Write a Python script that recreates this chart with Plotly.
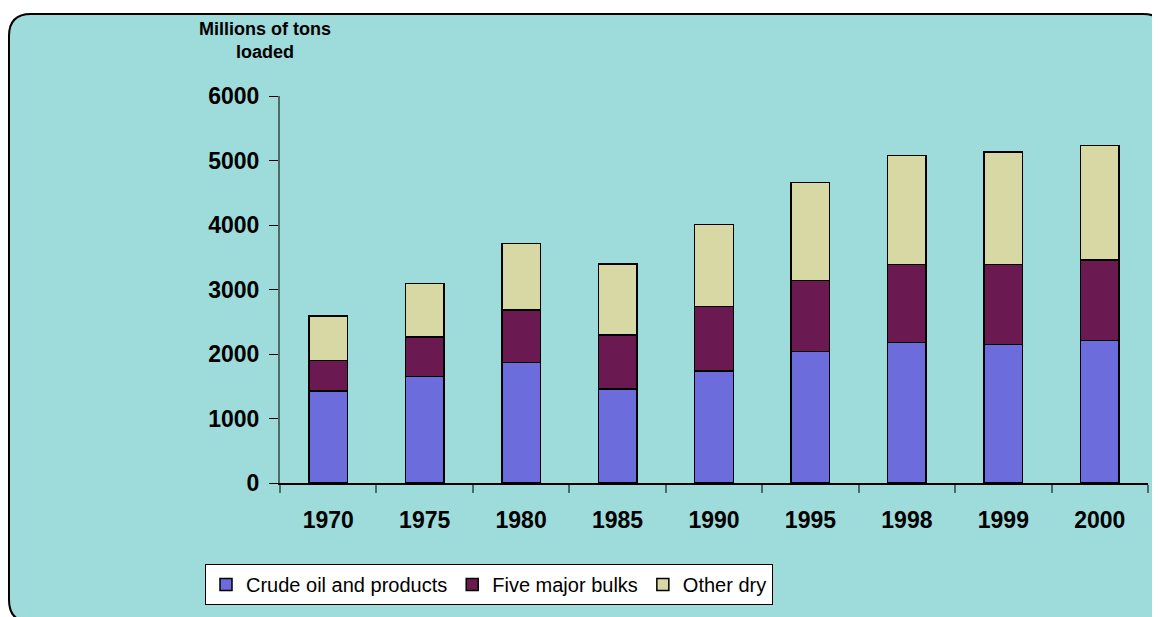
import plotly.graph_objects as go

# ---- data ----
years = ["1970", "1975", "1980", "1985", "1990", "1995", "1998", "1999", "2000"]
crude_oil = [1430, 1650, 1870, 1455, 1735, 2040, 2180, 2145, 2210]
five_major_bulks = [470, 615, 810, 840, 1005, 1100, 1210, 1245, 1245]
other_dry = [690, 825, 1030, 1100, 1270, 1520, 1690, 1745, 1775]
y_ticks = [0, 1000, 2000, 3000, 4000, 5000, 6000]

series = [
    ("Crude oil and products", crude_oil, "#6c6cdc"),
    ("Five major bulks", five_major_bulks, "#6a1a50"),
    ("Other dry", other_dry, "#d8d8a4"),
]

# page is shown with an 8px body margin, so the figure is offset by (8, 8)
OFF = 8
W, H = 1160 - OFF, 617 - OFF
ML, MT = 280 - OFF, 96 - OFF
PR, PB = 1148 - OFF, 483 - OFF
MR, MB = W - PR, H - PB
PW = PR - ML
PH = PB - MT


def px(x):
    return (x - OFF - ML) / PW


def py(y):
    return (PB - (y - OFF)) / PH


fig = go.Figure()
for name, vals, col in series:
    fig.add_trace(go.Bar(
        x=years, y=vals, name=name,
        marker=dict(color=col, line=dict(color="black", width=1.5)),
        width=0.4,
    ))

# rounded frame (page pixel coordinates)
x0, x1, y0, y1, r = 9, 1165, 14, 622, 22
pts = [
    ("M", [(x0 + r, y0)]), ("L", [(x1 - r, y0)]), ("Q", [(x1, y0), (x1, y0 + r)]),
    ("L", [(x1, y1 - r)]), ("Q", [(x1, y1), (x1 - r, y1)]),
    ("L", [(x0 + r, y1)]), ("Q", [(x0, y1), (x0, y1 - r)]),
    ("L", [(x0, y0 + r)]), ("Q", [(x0, y0), (x0 + r, y0)]),
]
path = ""
for cmd, cs in pts:
    path += cmd + " " + " ".join(f"{px(a):.5f},{py(b):.5f}" for a, b in cs) + " "
path += "Z"
fig.add_shape(type="path", path=path, xref="paper", yref="paper",
              fillcolor="#9edbdb", line=dict(color="black", width=2), layer="below")

fig.add_annotation(text="<b>Millions of tons</b><br><b>loaded</b>", x=px(265), y=py(40),
                   xref="paper", yref="paper", showarrow=False, xanchor="center", yanchor="middle",
                   font=dict(family="Liberation Sans, Arial", size=18, color="black"))

fig.update_layout(
    width=W, height=H,
    margin=dict(l=ML, r=MR, t=MT, b=MB),
    paper_bgcolor="white", plot_bgcolor="rgba(0,0,0,0)",
    barmode="stack", bargap=0.6,
    showlegend=True,
    legend=dict(orientation="h", x=px(489), xanchor="center", y=py(564), yanchor="top",
                bgcolor="white", bordercolor="black", borderwidth=1,
                font=dict(family="Liberation Sans, Arial", size=20, color="black"),
                traceorder="normal", itemwidth=30),
    font=dict(family="Liberation Sans, Arial", color="black"),
)
fig.update_yaxes(range=[0, 6000], tickvals=y_ticks, showgrid=False, zeroline=False,
                 showline=True, linecolor="#4e6a6a", linewidth=2,
                 ticks="outside", ticklen=9, tickcolor="black", tickwidth=1,
                 tickfont=dict(family="Liberation Sans, Arial", size=23, color="black", weight="bold"),
                 ticklabelstandoff=5)
fig.update_xaxes(showgrid=False, showline=True, linecolor="black", linewidth=1.5,
                 ticks="outside", tickson="boundaries", ticklen=8, tickcolor="#4e6a6a", tickwidth=2,
                 tickfont=dict(family="Liberation Sans, Arial", size=23, color="black", weight="bold"),
                 ticklabelstandoff=16)

fig.write_html("out.html")
